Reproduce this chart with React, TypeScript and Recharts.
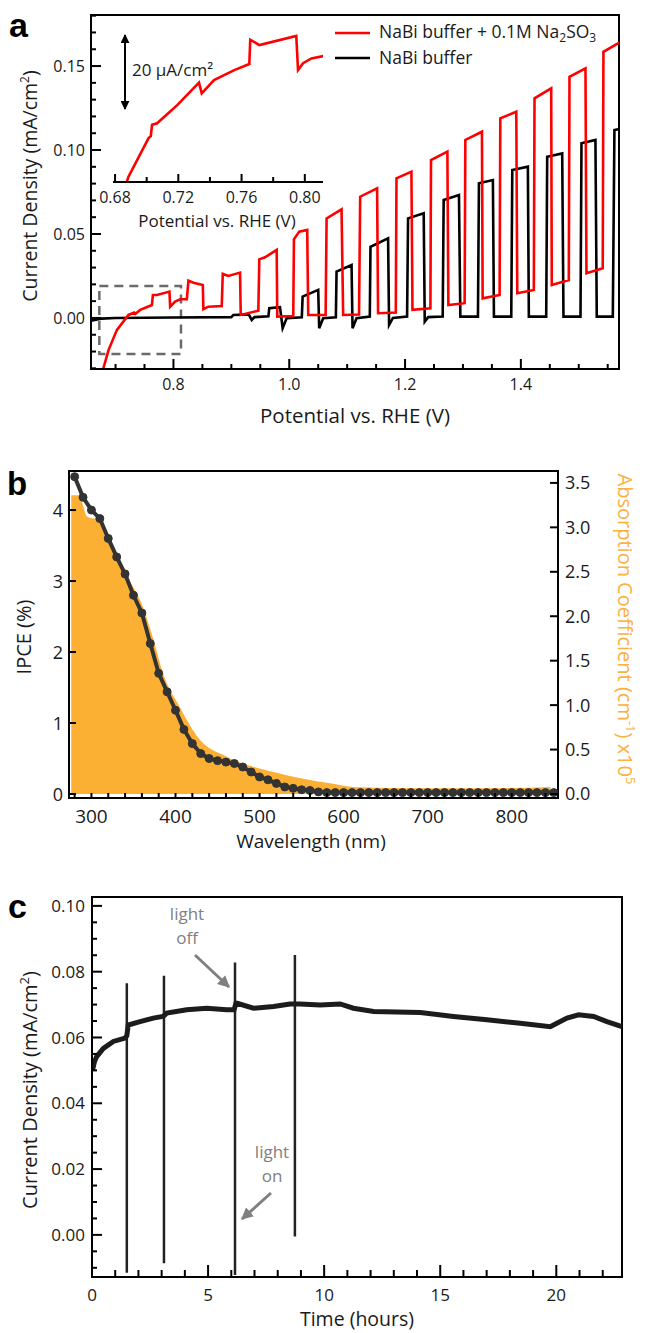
import React from 'react'
import { ComposedChart, Line, Area, XAxis, YAxis, ReferenceArea } from 'recharts'

// ---------- panel a: chopped linear sweeps ----------
const redSweep: [number, number][] = [
  [0.674, -0.036], [0.688, -0.019], [0.7024, -0.0071], [0.7224, 0.0018], [0.7322, 0.0032],
  [0.734, 0.0024], [0.7426, 0.0048], [0.7628, 0.0077], [0.7645, 0.0137], [0.7714, 0.0137],
  [0.7931, 0.0157], [0.7943, 0.0067], [0.8029, 0.0097], [0.8116, 0.0111], [0.8231, 0.0111],
  [0.8259, 0.0222], [0.8345, 0.021], [0.8507, 0.0196], [0.8517, 0.0052], [0.8603, 0.0067],
  [0.8834, 0.0071], [0.8852, 0.0262], [0.8948, 0.025], [0.915, 0.027], [0.9162, 0.0018],
  [0.9466, 0.0043], [0.9483, 0.0349], [0.9581, 0.0361], [0.9783, 0.0405], [0.9793, 0.0008],
  [1.0069, 0.0012], [1.0081, 0.0468], [1.0172, 0.0514], [1.031, 0.0524], [1.0328, 0.0018],
  [1.0628, 0.0018], [1.0645, 0.0593], [1.0903, 0.0647], [1.0931, 0.0018], [1.1205, 0.002],
  [1.1225, 0.0722], [1.1517, 0.0772], [1.1534, 0.0028], [1.184, 0.0032], [1.1852, 0.0832],
  [1.211, 0.0871], [1.2128, 0.0048], [1.2438, 0.0058], [1.2448, 0.094], [1.2731, 0.099],
  [1.2748, 0.0077], [1.3029, 0.0088], [1.3041, 0.106], [1.3328, 0.1109], [1.334, 0.0117],
  [1.3633, 0.0137], [1.3645, 0.1189], [1.3921, 0.1228], [1.3938, 0.0147], [1.4224, 0.0167],
  [1.4236, 0.1308], [1.4524, 0.1367], [1.4534, 0.0196], [1.4828, 0.0226], [1.484, 0.1436],
  [1.5116, 0.1486], [1.5133, 0.0266], [1.5414, 0.0296], [1.5426, 0.1585], [1.57, 0.164],
]

const blackSweep: [number, number][] = [
  [0.6576, -0.0016], [0.675, -0.0004], [0.7, 0.0], [0.8, 0.0003], [0.9, 0.0005],
  [0.9034, 0.0018], [0.93, 0.0021], [0.9352, -0.0012], [0.94, 0.0005], [0.964, 0.001],
  [0.9655, 0.0058], [0.984, 0.0064], [0.9886, -0.0061], [0.9955, -0.0002], [1.0217, 0.0004],
  [1.0231, 0.0127], [1.05, 0.0167], [1.0517, -0.0061], [1.0586, -0.0002], [1.0805, 0.0004],
  [1.0817, 0.0276], [1.1076, 0.0315], [1.1093, -0.0061], [1.1162, -0.0002], [1.1391, 0.0008],
  [1.1403, 0.0424], [1.1707, 0.0474], [1.1724, -0.0042], [1.179, 0.0], [1.2035, 0.0008],
  [1.2052, 0.0593], [1.2322, 0.0623], [1.234, -0.0022], [1.24, 0.0005], [1.265, 0.0008],
  [1.2667, 0.0702], [1.2931, 0.0732], [1.2955, 0.0008], [1.3259, 0.0008], [1.3276, 0.0802],
  [1.3517, 0.0821], [1.3535, 0.0008], [1.3834, 0.0008], [1.3852, 0.0881], [1.4121, 0.0901],
  [1.4138, 0.0008], [1.4438, 0.0008], [1.4455, 0.096], [1.4714, 0.098], [1.4736, 0.0008],
  [1.503, 0.0008], [1.5047, 0.104], [1.5288, 0.106], [1.5311, 0.0008], [1.5588, 0.0008],
  [1.5616, 0.1119], [1.57, 0.1125],
]

// zoomed view of the onset region (inset)
const insetRed: [number, number][] = [
  [0.687, -0.0205], [0.6885, -0.0187], [0.7012, -0.0091], [0.7026, -0.0086], [0.7034, -0.0058],
  [0.7066, -0.0054], [0.7193, -0.0009], [0.7331, 0.0047], [0.7348, 0.002], [0.7426, 0.0053],
  [0.7554, 0.0078], [0.7649, 0.0093], [0.7655, 0.0153], [0.7679, 0.0148], [0.7713, 0.014],
  [0.7946, 0.0163], [0.7957, 0.0078], [0.7989, 0.0095], [0.8042, 0.0107], [0.8117, 0.0113],
]

const aXTicks = [0.7, 0.75, 0.8, 0.85, 0.9, 0.95, 1.0, 1.05, 1.1, 1.15, 1.2, 1.25, 1.3, 1.35, 1.4, 1.45, 1.5, 1.55]
const aXLabels = [0.8, 1.0, 1.2, 1.4]
const aYTicks = [-0.03, -0.02, -0.01, 0, 0.01, 0.02, 0.03, 0.04, 0.05, 0.06, 0.07, 0.08, 0.09, 0.1, 0.11, 0.12, 0.13, 0.14, 0.15, 0.16, 0.17, 0.18]
const aYLabels = [0, 0.05, 0.1, 0.15]
const insetTicks = [0.68, 0.7, 0.72, 0.74, 0.76, 0.78, 0.8]
const insetLabels = [0.68, 0.72, 0.76, 0.8]

// ---------- panel b: IPCE and absorption ----------
const ipceWl = [280, 290, 300, 310, 320, 330, 340, 350, 360, 370, 380, 390, 400, 410, 420, 430, 440, 450, 460, 470,
  480, 490, 500, 510, 520, 530, 540, 550, 560, 570, 580, 590, 600, 610, 620, 630, 640, 650, 660, 670,
  680, 690, 700, 710, 720, 730, 740, 750, 760, 770, 780, 790, 800, 810, 820, 830, 840, 850]
const ipceVal = [4.47, 4.18, 4.0, 3.88, 3.6, 3.34, 3.1, 2.8, 2.55, 2.12, 1.7, 1.44, 1.18, 0.91, 0.71, 0.57, 0.5, 0.47, 0.45, 0.43,
  0.38, 0.31, 0.24, 0.2, 0.15, 0.1, 0.08, 0.06, 0.05, 0.03, 0.02, 0.02, 0.02, 0.02, 0.02, 0.02, 0.02, 0.02, 0.02, 0.02,
  0.02, 0.02, 0.02, 0.02, 0.02, 0.02, 0.02, 0.02, 0.02, 0.02, 0.02, 0.02, 0.02, 0.02, 0.02, 0.02, 0.02, 0.02]
const absWl = [276, 285, 295, 310, 322, 340, 361, 374, 385, 405, 429, 461, 520, 584, 611, 691, 770, 846]
const absVal = [3.36, 3.36, 3.12, 3.08, 2.86, 2.49, 2.11, 1.73, 1.36, 0.98, 0.61, 0.42, 0.24, 0.12, 0.08, 0.064, 0.064, 0.08]

const bXTicks = [280, 300, 320, 340, 360, 380, 400, 420, 440, 460, 480, 500, 520, 540, 560, 580, 600, 620, 640, 660, 680, 700, 720, 740, 760, 780, 800, 820, 840]
const bXLabels = [300, 400, 500, 600, 700, 800]
const bYTicks = [0, 1, 2, 3, 4]
const bY2Ticks = [0, 0.5, 1, 1.5, 2, 2.5, 3, 3.5]

// ---------- panel c: stability ----------
const stability: [number, number][] = [
  [0.02, 0.05], [0.1, 0.0525], [0.2, 0.0542], [0.49, 0.0567], [0.92, 0.0588], [1.42, 0.0598],
  [1.5, 0.0605], [1.56, 0.0638], [2.07, 0.0648], [2.64, 0.0659], [3.05, 0.0664], [3.1, 0.0666],
  [3.22, 0.0674], [4.08, 0.0684], [4.94, 0.0689], [5.8, 0.0684], [6.12, 0.0684], [6.2, 0.0704],
  [6.26, 0.0704], [6.95, 0.0689], [7.82, 0.0694], [8.53, 0.0702], [8.97, 0.0702], [9.83, 0.0699],
  [10.69, 0.0702], [11.26, 0.0689], [12.13, 0.0679], [14.14, 0.0676], [15.57, 0.0664], [17.01, 0.0654],
  [18.45, 0.0643], [19.74, 0.0633], [19.88, 0.0638], [20.46, 0.0659], [20.96, 0.0669], [21.61, 0.0664],
  [22.18, 0.0648], [22.83, 0.0633],
]
// light on/off transients: time, top, bottom
const spikes: [number, number, number][] = [
  [1.5, 0.0765, -0.0115], [3.1, 0.0788, -0.0086], [6.16, 0.0828, -0.0122], [8.74, 0.0851, -0.0005],
]
const cXTicks = [0, 1, 2, 3, 4, 5, 6, 7, 8, 9, 10, 11, 12, 13, 14, 15, 16, 17, 18, 19, 20, 21, 22]
const cXLabels = [0, 5, 10, 15, 20]
const cYTicks = [-0.01, -0.005, 0, 0.005, 0.01, 0.015, 0.02, 0.025, 0.03, 0.035, 0.04, 0.045, 0.05, 0.055, 0.06, 0.065, 0.07, 0.075, 0.08, 0.085, 0.09, 0.095, 0.1]
const cYLabels = [0, 0.02, 0.04, 0.06, 0.08, 0.1]

const A_X: [number, number] = [0.6576, 1.5695]
const A_Y: [number, number] = [-0.0304, 0.1804]
const IN_X: [number, number] = [0.6787, 0.8115]
const IN_Y: [number, number] = [-0.02, 0.019]
const B_X: [number, number] = [273.3, 855]
const B_YL: [number, number] = [-0.056, 4.55]
const B_YR: [number, number] = [-0.045, 3.634]
const C_X: [number, number] = [0, 22.83]
const C_Y: [number, number] = [-0.0128, 0.1027]

const FONT = "'Open Sans', sans-serif"
const AXIS = { stroke: '#000', strokeWidth: 2 }

type Side = 'bottom' | 'left' | 'right'

function makeTick(side: Side, labels: number[], digits: number, fontSize: number, gap: number, big: number, small: number) {
  return (props: any) => {
    const { x, y, payload } = props
    const v: number = payload.value
    const major = labels.some(l => Math.abs(l - v) < 1e-6)
    const len = major ? big : small
    const label = major ? (digits === 0 ? String(Math.round(v)) : v.toFixed(digits)) : ''
    if (side === 'bottom') {
      return (
        <g>
          <line x1={x} y1={y} x2={x} y2={y - len} stroke="#000" strokeWidth={2} />
          {label && (
            <text x={x} y={y + gap} textAnchor="middle" fontSize={fontSize} fontFamily={FONT} fill="#1a1a1a">{label}</text>
          )}
        </g>
      )
    }
    const dir = side === 'left' ? 1 : -1
    return (
      <g>
        <line x1={x} y1={y} x2={x + dir * len} y2={y} stroke="#000" strokeWidth={2} />
        {label && (
          <text x={x - dir * gap} y={y} dy="0.36em" textAnchor={side === 'left' ? 'end' : 'start'}
            fontSize={fontSize} fontFamily={FONT} fill="#1a1a1a">{label}</text>
        )}
      </g>
    )
  }
}

const pts = (arr: [number, number][]) => arr.map(([x, y]) => ({ x, y }))

function PanelA() {
  return (
    <ComposedChart width={645} height={440} margin={{ top: 15, right: 26, bottom: 0, left: 0 }}>
      <XAxis type="number" dataKey="x" domain={A_X} allowDataOverflow ticks={aXTicks} interval={0}
        height={71} tickSize={0} tickMargin={0} tickLine={false} axisLine={AXIS}
        tick={makeTick('bottom', aXLabels, 1, 16, 21, 10, 5)} />
      <YAxis type="number" domain={A_Y} allowDataOverflow ticks={aYTicks} interval={0}
        width={91} tickSize={0} tickMargin={0} tickLine={false} axisLine={AXIS}
        tick={makeTick('left', aYLabels, 2, 16, 6, 10, 5)} />
      <ReferenceArea x1={A_X[0]} x2={A_X[1]} y1={A_Y[0]} y2={A_Y[1]} fill="none" stroke="#000" strokeWidth={2} ifOverflow="visible" />
      <ReferenceArea x1={0.672} x2={0.813} y1={-0.0214} y2={0.019} fill="none" stroke="#6a6a6a" strokeWidth={2.5} strokeDasharray="9 6" />
      <Line data={pts(blackSweep)} dataKey="y" type="linear" stroke="#000" strokeWidth={2.6} dot={false} isAnimationActive={false} />
      <Line data={pts(redSweep)} dataKey="y" type="linear" stroke="#ff0000" strokeWidth={2.6} dot={false} isAnimationActive={false} />
    </ComposedChart>
  )
}

function Inset() {
  return (
    <ComposedChart width={240} height={195} margin={{ top: 5, right: 10, bottom: 0, left: 20 }}>
      <XAxis type="number" dataKey="x" domain={IN_X} allowDataOverflow ticks={insetTicks} interval={0}
        height={33} tickSize={0} tickMargin={0} tickLine={false} axisLine={AXIS}
        tick={makeTick('bottom', insetLabels, 2, 16, 21, 8, 5)} />
      <YAxis hide type="number" domain={IN_Y} allowDataOverflow />
      <Line data={pts(insetRed)} dataKey="y" type="linear" stroke="#ff0000" strokeWidth={2.6} dot={false} isAnimationActive={false} />
    </ComposedChart>
  )
}

function PanelB() {
  const ipce = ipceWl.map((wl, i) => ({ wl, v: ipceVal[i] }))
  const absn = absWl.map((wl, i) => ({ wl, a: absVal[i] }))
  return (
    <ComposedChart width={645} height={440} margin={{ top: 31, right: 0, bottom: 0, left: 0 }}>
      <XAxis type="number" dataKey="wl" domain={B_X} allowDataOverflow ticks={bXTicks} interval={0}
        height={82} tickSize={0} tickMargin={0} tickLine={false} axisLine={AXIS}
        tick={makeTick('bottom', bXLabels, 0, 19, 25, 5, 5)} />
      <YAxis yAxisId="l" type="number" domain={B_YL} allowDataOverflow ticks={bYTicks} interval={0}
        width={69} tickSize={0} tickMargin={0} tickLine={false} axisLine={AXIS}
        tick={makeTick('left', bYTicks, 0, 18, 6, 7, 7)} />
      <YAxis yAxisId="r" orientation="right" type="number" domain={B_YR} allowDataOverflow ticks={bY2Ticks} interval={0}
        width={87} tickSize={0} tickMargin={0} tickLine={false} axisLine={AXIS}
        tick={makeTick('right', bY2Ticks, 1, 18, 7, 8, 8)} />
      <ReferenceArea yAxisId="l" x1={B_X[0]} x2={B_X[1]} y1={B_YL[0]} y2={B_YL[1]} fill="none" stroke="#000" strokeWidth={2} ifOverflow="visible" />
      <Area yAxisId="r" data={absn} dataKey="a" type="monotone" fill="#fbb034" fillOpacity={1} stroke="none" isAnimationActive={false} />
      <Line yAxisId="l" data={ipce} dataKey="v" type="linear" stroke="#333" strokeWidth={4}
        dot={{ r: 4, fill: '#333', stroke: '#333', strokeWidth: 1 }} isAnimationActive={false} />
    </ComposedChart>
  )
}

function PanelC() {
  const main = stability.map(([t, j]) => ({ t, j }))
  const trans = spikes.flatMap(([t, hi, lo]) => [{ t, j: hi as number | null }, { t, j: lo as number | null }, { t, j: null }])
  return (
    <ComposedChart width={645} height={453} margin={{ top: 17, right: 23, bottom: 0, left: 0 }}>
      <XAxis type="number" dataKey="t" domain={C_X} allowDataOverflow ticks={cXTicks} interval={0}
        height={56} tickSize={0} tickMargin={0} tickLine={false} axisLine={AXIS}
        tick={makeTick('bottom', cXLabels, 0, 17, 24, 12, 7)} />
      <YAxis type="number" domain={C_Y} allowDataOverflow ticks={cYTicks} interval={0}
        width={92} tickSize={0} tickMargin={0} tickLine={false} axisLine={AXIS}
        tick={makeTick('left', cYLabels, 2, 17, 7, 10, 5)} />
      <ReferenceArea x1={C_X[0]} x2={C_X[1]} y1={C_Y[0]} y2={C_Y[1]} fill="none" stroke="#000" strokeWidth={2} ifOverflow="visible" />
      <Line data={trans} dataKey="j" type="linear" stroke="#222" strokeWidth={2.5} dot={false} connectNulls={false} isAnimationActive={false} />
      <Line data={main} dataKey="j" type="linear" stroke="#1c1c1c" strokeWidth={5} dot={false} isAnimationActive={false} />
    </ComposedChart>
  )
}

function Overlay() {
  const t = { fontFamily: FONT, fill: '#1a1a1a' }
  return (
    <svg width={645} height={1333} style={{ position: 'absolute', left: 0, top: 0, pointerEvents: 'none' }}>
      <defs>
        <marker id="hk" viewBox="0 0 10 10" refX="9" refY="5" markerWidth="4.5" markerHeight="4.5" orient="auto-start-reverse">
          <path d="M0,0 L10,5 L0,10 z" fill="#000" />
        </marker>
        <marker id="hg" viewBox="0 0 10 10" refX="9" refY="5" markerWidth="4" markerHeight="4" orient="auto">
          <path d="M0,0 L10,5 L0,10 z" fill="#808080" />
        </marker>
      </defs>

      {/* panel letters */}
      <text x={9} y={37} fontFamily="'Liberation Sans', Arial, sans-serif" fontWeight="bold" fontSize={34} fill="#000">a</text>
      <text x={7} y={495} fontFamily="'Liberation Sans', Arial, sans-serif" fontWeight="bold" fontSize={33} fill="#000">b</text>
      <text x={8} y={918} fontFamily="'Liberation Sans', Arial, sans-serif" fontWeight="bold" fontSize={34} fill="#000">c</text>

      {/* panel a */}
      <line x1={335} y1={33} x2={370} y2={33} stroke="#ff0000" strokeWidth={2.6} />
      <text x={379} y={38} fontSize={17.5} {...t}>
        NaBi buffer + 0.1M Na<tspan dy={4} fontSize={12}>2</tspan><tspan dy={-4}>SO</tspan><tspan dy={4} fontSize={12}>3</tspan>
      </text>
      <line x1={335} y1={58} x2={370} y2={58} stroke="#000" strokeWidth={2.6} />
      <text x={379} y={64} fontSize={17.5} {...t}>NaBi buffer</text>
      <line x1={125} y1={35} x2={125} y2={109} stroke="#000" strokeWidth={2} markerStart="url(#hk)" markerEnd="url(#hk)" />
      <text x={132} y={76} fontSize={17} {...t}>20 μA/cm²</text>
      <text x={217} y={227} fontSize={17} textAnchor="middle" {...t}>Potential vs. RHE (V)</text>
      <text x={355} y={423} fontSize={20.5} textAnchor="middle" {...t}>Potential vs. RHE (V)</text>
      <text transform="translate(37,186) rotate(-90)" fontSize={19.5} textAnchor="middle" {...t}>
        Current Density (mA/cm<tspan dy={-8} fontSize={12}>2</tspan><tspan dy={8}>)</tspan>
      </text>

      {/* panel b */}
      <text x={311} y={848} fontSize={19} textAnchor="middle" {...t}>Wavelength (nm)</text>
      <text transform="translate(31,637) rotate(-90)" fontSize={20} textAnchor="middle" {...t}>IPCE (%)</text>
      <text transform="translate(618,629) rotate(90)" fontSize={20} textAnchor="middle" fontFamily={FONT} fill="#fbb040">
        Absorption Coefficient (cm<tspan dy={-8} fontSize={13}>-1</tspan><tspan dy={8}>) x10</tspan><tspan dy={-8} fontSize={13}>5</tspan>
      </text>

      {/* panel c */}
      <text x={357} y={1326} fontSize={19.5} textAnchor="middle" {...t}>Time (hours)</text>
      <text transform="translate(37,1090) rotate(-90)" fontSize={20} textAnchor="middle" {...t}>
        Current Density (mA/cm<tspan dy={-8} fontSize={13}>2</tspan><tspan dy={8}>)</tspan>
      </text>
      <text x={187} y={920} fontSize={17} textAnchor="middle" fontFamily={FONT} fill="#808080">light</text>
      <text x={187} y={944} fontSize={17} textAnchor="middle" fontFamily={FONT} fill="#808080">off</text>
      <line x1={195} y1={955} x2={229} y2={987} stroke="#808080" strokeWidth={3} markerEnd="url(#hg)" />
      <text x={272} y={1158} fontSize={17} textAnchor="middle" fontFamily={FONT} fill="#808080">light</text>
      <text x={272} y={1182} fontSize={17} textAnchor="middle" fontFamily={FONT} fill="#808080">on</text>
      <line x1={271} y1={1193} x2={242} y2={1219} stroke="#808080" strokeWidth={3} markerEnd="url(#hg)" />
    </svg>
  )
}

export default function App() {
  return (
    <div style={{ position: 'absolute', left: 0, top: 0, width: 645, height: 1333, background: '#fff', overflow: 'hidden' }}>
      <div style={{ position: 'absolute', left: 0, top: 0 }}><PanelA /></div>
      <div style={{ position: 'absolute', left: 93, top: 20 }}><Inset /></div>
      <div style={{ position: 'absolute', left: 0, top: 440 }}><PanelB /></div>
      <div style={{ position: 'absolute', left: 0, top: 880 }}><PanelC /></div>
      <Overlay />
    </div>
  )
}
